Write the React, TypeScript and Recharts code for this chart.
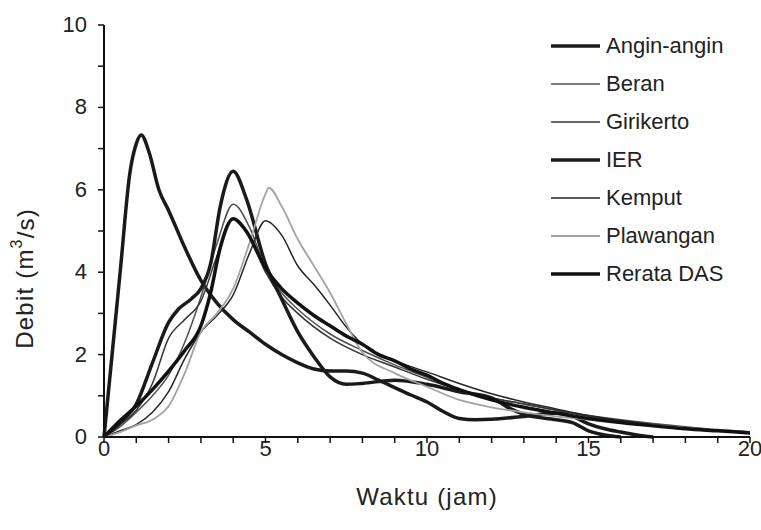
import { LineChart, Line, XAxis, YAxis } from "recharts";

// jam (hours) and debit (m3/s) per station
const anginT = [0, 0.5, 0.8, 1, 1.15, 1.4, 1.7, 2, 2.5, 3, 3.5, 4, 4.5, 5, 5.5, 6, 6.5, 7, 7.5, 8, 8.5, 9, 9.5, 10, 10.5, 11, 11.5, 12, 13, 14, 14.5, 15, 15.5, 16, 16.5, 17];
const anginV = [0, 4.0, 6.4, 7.12, 7.33, 6.9, 6.0, 5.5, 4.6, 3.8, 3.25, 2.85, 2.55, 2.25, 2.0, 1.8, 1.65, 1.6, 1.6, 1.55, 1.38, 1.2, 1.02, 0.85, 0.62, 0.45, 0.42, 0.43, 0.5, 0.58, 0.5, 0.32, 0.2, 0.12, 0.05, 0];

const beranT = [0, 0.5, 1, 1.5, 2, 2.5, 3, 3.5, 4, 4.5, 5, 5.5, 6, 7, 8, 9, 10, 11, 12, 13, 14, 15, 16, 17, 18, 19, 20];
const beranV = [0, 0.25, 0.6, 1.0, 1.5, 2.3, 3.4, 4.7, 5.65, 5.1, 4.1, 3.5, 3.1, 2.5, 2.1, 1.75, 1.45, 1.15, 0.95, 0.8, 0.65, 0.52, 0.42, 0.33, 0.25, 0.18, 0.13];

const girikertoT = [0, 0.5, 1, 1.5, 2, 2.5, 3, 3.5, 4, 4.5, 5, 5.5, 6, 7, 8, 9, 10, 11, 12, 13, 14, 15, 16, 17, 18, 19, 20];
const girikertoV = [0, 0.3, 0.65, 1.3, 2.4, 2.85, 3.3, 4.4, 5.3, 4.9, 4.0, 3.4, 3.0, 2.4, 2.0, 1.7, 1.4, 1.15, 0.95, 0.8, 0.65, 0.5, 0.4, 0.3, 0.22, 0.16, 0.1];

const ierT = [0, 0.5, 1, 1.5, 2, 2.3, 2.7, 3, 3.3, 3.6, 4, 4.4, 5, 5.5, 6, 6.5, 7, 7.5, 8, 9, 10, 11, 12, 12.5, 13, 14, 14.5, 15, 15.5, 16];
const ierV = [0, 0.35, 0.8, 1.8, 2.78, 3.1, 3.35, 3.6, 4.2, 5.6, 6.45, 5.8, 4.2, 3.35, 2.55, 1.95, 1.46, 1.28, 1.3, 1.38, 1.28, 1.1, 0.95, 0.72, 0.55, 0.42, 0.35, 0.15, 0.05, 0];

const kemputT = [0, 0.5, 1, 1.5, 2, 2.5, 3, 3.5, 4, 4.5, 5, 5.5, 6, 6.5, 7, 7.5, 8, 9, 10, 11, 12, 13, 14, 15, 16, 17, 18, 19, 20];
const kemputV = [0, 0.15, 0.3, 0.6, 1.1, 1.9, 2.55, 2.95, 3.45, 4.45, 5.25, 4.9, 4.15, 3.7, 3.2, 2.67, 2.25, 1.85, 1.58, 1.3, 1.05, 0.85, 0.68, 0.52, 0.4, 0.3, 0.22, 0.16, 0.1];

const plawanganT = [0, 0.5, 1, 1.5, 2, 2.5, 3, 3.5, 4, 4.5, 5, 5.1, 5.5, 6, 6.5, 7, 7.5, 8, 9, 10, 11, 12, 13, 14, 15, 16, 17, 18, 19, 20];
const plawanganV = [0, 0.12, 0.28, 0.42, 0.75, 1.55, 2.55, 3.0, 3.6, 4.7, 5.9, 6.05, 5.6, 4.8, 4.15, 3.5, 2.75, 2.05, 1.55, 1.22, 0.9, 0.72, 0.6, 0.5, 0.42, 0.35, 0.28, 0.22, 0.16, 0.12];

const rerataT = [0, 0.5, 1, 1.5, 2, 2.5, 3, 3.3, 3.6, 4, 4.4, 5, 5.5, 6, 6.5, 7, 7.5, 8, 8.5, 9, 9.5, 10, 10.5, 11, 12, 13, 14, 15, 16, 17, 18, 19, 20];
const rerataV = [0, 0.4, 0.75, 1.15, 1.6, 2.1, 2.7, 3.5, 4.6, 5.3, 5.0, 4.1, 3.6, 3.25, 2.95, 2.7, 2.45, 2.25, 2.0, 1.85, 1.65, 1.5, 1.3, 1.15, 0.9, 0.72, 0.58, 0.45, 0.35, 0.27, 0.2, 0.15, 0.1];

const xTicks = [0, 1, 2, 3, 4, 5, 6, 7, 8, 9, 10, 11, 12, 13, 14, 15, 16, 17, 18, 19, 20];
const yTicks = [0, 0.5, 1, 1.5, 2, 2.5, 3, 3.5, 4, 4.5, 5, 5.5, 6, 6.5, 7, 7.5, 8, 8.5, 9, 9.5, 10];

const zip = (t: number[], v: number[]) => t.map((x, i) => ({ t: x, v: v[i] }));

const series = [
  { name: "Angin-angin", data: zip(anginT, anginV), color: "#1a1a1a", width: 3.5 },
  { name: "Beran", data: zip(beranT, beranV), color: "#505050", width: 1.5 },
  { name: "Girikerto", data: zip(girikertoT, girikertoV), color: "#353535", width: 1.5 },
  { name: "IER", data: zip(ierT, ierV), color: "#1a1a1a", width: 3.5 },
  { name: "Kemput", data: zip(kemputT, kemputV), color: "#262626", width: 1.5 },
  { name: "Plawangan", data: zip(plawanganT, plawanganV), color: "#a3a3a3", width: 1.8 },
  { name: "Rerata DAS", data: zip(rerataT, rerataV), color: "#111111", width: 3.5 },
];

const FONT = "'Liberation Sans', Arial, sans-serif";
const FS = 22;
const TITLE_FS = 24;

const XTick = ({ x, y, payload }: any) =>
  payload.value % 5 === 0 ? (
    <text x={x} y={y + 11} textAnchor="middle" fontSize={FS} fill="#222" fontFamily={FONT}>
      {payload.value}
    </text>
  ) : null;

const YTick = ({ x, y, payload }: any) =>
  payload.value % 2 === 0 ? (
    <text x={x - 9} y={y + 7} textAnchor="end" fontSize={FS} fill="#222" fontFamily={FONT}>
      {payload.value}
    </text>
  ) : null;

const YLabel = ({ viewBox }: any) => {
  const cx = 25;
  const cy = viewBox.y + viewBox.height * 0.615;
  return (
    <text
      x={cx}
      y={cy}
      transform={`rotate(-90 ${cx} ${cy})`}
      textAnchor="middle"
      dominantBaseline="central"
      fontSize={TITLE_FS}
      letterSpacing={1.2}
      fill="#222"
      fontFamily={FONT}
    >
      Debit (m<tspan dy={-9} fontSize={16}>3</tspan>
      <tspan dy={9}>/s)</tspan>
    </text>
  );
};

const LegendBox = () => (
  <div style={{ position: "absolute", left: 551, top: 27, fontFamily: FONT, fontSize: FS, color: "#222" }}>
    {series.map((s) => (
      <div key={s.name} style={{ display: "flex", alignItems: "center", height: 38 }}>
        <svg width={55} height={10}>
          <line x1={0} x2={49} y1={5} y2={5} stroke={s.color} strokeWidth={s.width} />
        </svg>
        <span>{s.name}</span>
      </div>
    ))}
  </div>
);

export default function App() {
  return (
    <div style={{ position: "absolute", left: 0, top: 0, width: 761, height: 530, background: "#fff" }}>
      <LineChart width={761} height={530} margin={{ top: 25, right: 11, bottom: 63, left: 44 }}>
        <XAxis
          type="number"
          dataKey="t"
          domain={[0, 20]}
          ticks={xTicks}
          tick={<XTick />}
          tickSize={6}
          axisLine={{ stroke: "#111", strokeWidth: 2 }}
          tickLine={{ stroke: "#111", strokeWidth: 1.5 }}
          height={30}
          allowDuplicatedCategory={false}
          label={{
            value: "Waktu (jam)",
            position: "insideBottom",
            offset: -38,
            fontSize: TITLE_FS,
            letterSpacing: 1.2,
            fill: "#222",
            fontFamily: FONT,
          }}
        />
        <YAxis
          type="number"
          dataKey="v"
          domain={[0, 10]}
          ticks={yTicks}
          tick={<YTick />}
          tickSize={6}
          width={60}
          axisLine={{ stroke: "#111", strokeWidth: 2 }}
          tickLine={{ stroke: "#111", strokeWidth: 1.5 }}
          label={<YLabel />}
        />
        {series.map((s) => (
          <Line
            key={s.name}
            name={s.name}
            data={s.data}
            dataKey="v"
            type="monotone"
            stroke={s.color}
            strokeWidth={s.width}
            dot={false}
            activeDot={false}
            isAnimationActive={false}
          />
        ))}
      </LineChart>
      <LegendBox />
    </div>
  );
}
